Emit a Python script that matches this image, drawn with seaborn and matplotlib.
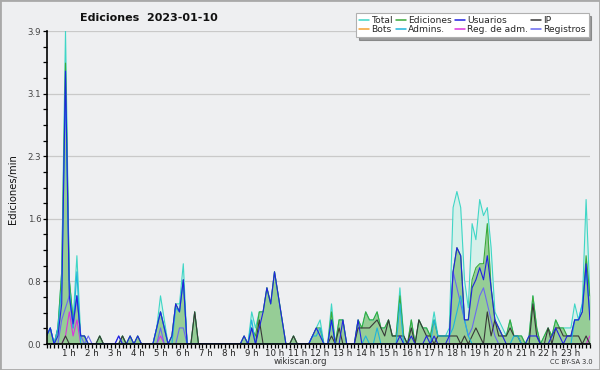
import numpy as np
import pandas as pd
import matplotlib
matplotlib.use("Agg")
import matplotlib.pyplot as plt
from matplotlib.lines import Line2D
from matplotlib.patches import Rectangle
import seaborn as sns

# ---------------- data (10-minute slots, 144 per day) ----------------
series_names = ["Total", "Ediciones", "Usuarios", "IP", "Bots", "Admins.", "Reg. de adm.", "Registros"]
hour_labels = [f"{h} h" for h in range(1, 24)]
ytick_values = [0.0, 0.78, 1.56, 2.34, 3.12, 3.9]
ytick_labels = ["0.0", "0.8", "1.6", "2.3", "3.1", "3.9"]

total = [
    0.1, 0.2, 0.0, 0.2, 0.9, 3.9,
    0.8, 0.3, 1.1, 0.1, 0.1, 0.0,
    0, 0, 0.1, 0, 0, 0,
    0, 0, 0.1, 0, 0.1, 0,
    0.1, 0, 0, 0, 0, 0.2,
    0.6, 0.3, 0, 0.1, 0.5, 0.5,
    1.0, 0, 0, 0.4, 0, 0,
    0, 0, 0, 0, 0, 0,
    0, 0, 0, 0, 0.1, 0,
    0.4, 0.2, 0.4, 0.4, 0.7, 0.5,
    0.9, 0.6, 0.3, 0, 0, 0.1,
    0, 0, 0, 0, 0.1, 0.2,
    0.3, 0, 0, 0.5, 0, 0.3,
    0.3, 0, 0, 0, 0.3, 0.2,
    0.4, 0.3, 0.3, 0.4, 0.2, 0.2,
    0.3, 0.1, 0.1, 0.7, 0.1, 0,
    0.3, 0, 0.3, 0.2, 0.2, 0.1,
    0.4, 0.1, 0.1, 0.1, 0.2, 1.7,
    1.9, 1.7, 0.8, 0.45, 1.5, 1.3,
    1.8, 1.6, 1.7, 1.2, 0.4, 0.3,
    0.2, 0.1, 0.3, 0.1, 0.1, 0.1,
    0, 0.1, 0.6, 0.2, 0, 0.1,
    0.2, 0.1, 0.3, 0.2, 0.2, 0.2,
    0.2, 0.5, 0.3, 0.5, 1.8, 0.6,
]

ediciones = [
    0.1, 0.2, 0.0, 0.2, 0.9, 3.5,
    0.8, 0.3, 0.6, 0.1, 0.1, 0.0,
    0, 0, 0.1, 0, 0, 0,
    0, 0, 0.1, 0, 0.1, 0,
    0.1, 0, 0, 0, 0, 0.2,
    0.4, 0.2, 0, 0.1, 0.5, 0.4,
    0.8, 0, 0, 0.4, 0, 0,
    0, 0, 0, 0, 0, 0,
    0, 0, 0, 0, 0.1, 0,
    0.2, 0.1, 0.4, 0.4, 0.7, 0.5,
    0.9, 0.6, 0.3, 0, 0, 0.1,
    0, 0, 0, 0, 0.1, 0.2,
    0.2, 0, 0, 0.4, 0, 0.3,
    0.3, 0, 0, 0, 0.3, 0.2,
    0.4, 0.3, 0.3, 0.4, 0.2, 0.2,
    0.3, 0.1, 0.1, 0.6, 0.1, 0,
    0.3, 0, 0.3, 0.2, 0.2, 0.1,
    0.3, 0.1, 0.1, 0.1, 0.1, 0.9,
    1.2, 1.1, 0.3, 0.3, 0.8, 0.95,
    1.0, 1.0, 1.5, 0.7, 0.3, 0.2,
    0.1, 0.1, 0.3, 0.1, 0.1, 0.1,
    0, 0.1, 0.6, 0.2, 0, 0.1,
    0.2, 0.1, 0.3, 0.2, 0.2, 0.1,
    0.1, 0.3, 0.3, 0.4, 1.1, 0.6,
]

usuarios = [
    0.1, 0.2, 0.0, 0.1, 0.5, 3.4,
    0.6, 0.25, 0.6, 0.1, 0.1, 0.0,
    0, 0, 0, 0, 0, 0,
    0, 0.1, 0, 0, 0.1, 0,
    0.1, 0, 0, 0, 0, 0.2,
    0.4, 0.2, 0, 0.1, 0.5, 0.4,
    0.8, 0, 0, 0, 0, 0,
    0, 0, 0, 0, 0, 0,
    0, 0, 0, 0, 0.1, 0,
    0.2, 0.0, 0.2, 0.4, 0.7, 0.5,
    0.9, 0.6, 0.3, 0, 0, 0,
    0, 0, 0, 0, 0.1, 0.2,
    0.1, 0, 0, 0.3, 0, 0,
    0.3, 0, 0, 0, 0.3, 0,
    0, 0, 0, 0, 0, 0,
    0, 0, 0, 0.1, 0, 0,
    0.1, 0, 0, 0, 0.1, 0,
    0.1, 0, 0, 0, 0.1, 0.9,
    1.2, 1.1, 0.3, 0.3, 0.7, 0.8,
    0.95, 0.8, 1.1, 0.7, 0.3, 0.2,
    0.1, 0, 0, 0, 0, 0,
    0, 0.1, 0.1, 0.1, 0, 0,
    0, 0.1, 0.2, 0.1, 0, 0.1,
    0.1, 0.3, 0.3, 0.4, 1.0, 0.3,
]

ip = [
    0, 0, 0, 0, 0, 0.1,
    0, 0, 0, 0, 0, 0,
    0, 0, 0.1, 0, 0, 0,
    0, 0, 0.1, 0, 0, 0,
    0, 0, 0, 0, 0, 0,
    0, 0, 0, 0, 0, 0,
    0, 0, 0, 0.4, 0, 0,
    0, 0, 0, 0, 0, 0,
    0, 0, 0, 0, 0, 0,
    0, 0, 0.3, 0, 0, 0,
    0, 0, 0, 0, 0, 0.1,
    0, 0, 0, 0, 0, 0,
    0, 0, 0, 0.1, 0, 0.2,
    0, 0, 0, 0, 0.2, 0.2,
    0.2, 0.2, 0.25, 0.3, 0.2, 0.1,
    0.3, 0.1, 0.1, 0.1, 0.1, 0,
    0.2, 0, 0.3, 0.2, 0.1, 0.1,
    0, 0.1, 0.1, 0.1, 0.1, 0.1,
    0.1, 0, 0.1, 0, 0.1, 0.2,
    0.1, 0, 0.4, 0.1, 0.3, 0.1,
    0.1, 0.1, 0.2, 0.1, 0.1, 0,
    0, 0, 0.5, 0.1, 0, 0,
    0.2, 0, 0.2, 0.2, 0.1, 0.1,
    0.1, 0.1, 0.1, 0, 0.1, 0,
]

bots = [0.0] * 144

admins = [
    0.1, 0.2, 0, 0.2, 0.7, 3.2,
    0.7, 0.2, 0.9, 0, 0, 0,
    0, 0, 0, 0, 0, 0,
    0, 0, 0, 0, 0, 0,
    0, 0, 0, 0, 0, 0.2,
    0.4, 0.2, 0, 0, 0.45, 0.4,
    0.8, 0, 0, 0, 0, 0,
    0, 0, 0, 0, 0, 0,
    0, 0, 0, 0, 0, 0,
    0.3, 0, 0, 0, 0, 0,
    0, 0, 0, 0, 0, 0,
    0, 0, 0, 0, 0.1, 0.1,
    0.2, 0, 0, 0.3, 0, 0,
    0, 0, 0, 0, 0, 0,
    0.1, 0, 0, 0.2, 0, 0,
    0, 0, 0, 0.5, 0, 0,
    0, 0, 0, 0, 0, 0,
    0.3, 0.1, 0.1, 0.1, 0.1, 0.2,
    0.4, 0.6, 0.3, 0.1, 0, 0,
    0, 0, 0, 0, 0, 0,
    0, 0, 0, 0.1, 0.1, 0,
    0, 0, 0, 0, 0, 0,
    0, 0, 0, 0, 0, 0,
    0, 0.3, 0.3, 0.5, 0.9, 0.4,
]

reg_adm = [
    0, 0, 0, 0, 0, 0.1,
    0.4, 0.1, 0.3, 0, 0, 0,
] + [0] * 18 + [0.1] + [0] * 112 + [0.1]

registros = [
    0, 0, 0, 0, 0.3, 0.45,
    0.6, 0.2, 0.6, 0.1, 0, 0.1,
    0, 0, 0, 0, 0, 0,
    0, 0.1, 0, 0, 0, 0,
    0, 0, 0, 0, 0, 0,
    0.2, 0, 0, 0, 0, 0.2,
    0.2, 0, 0, 0, 0, 0,
] + [0] * 65 + [
    0.9, 0.7, 0.5, 0.3, 0.1, 0.2, 0.4,
    0.6, 0.7, 0.5, 0.3, 0.1, 0,
] + [0] * 24

colors = {
    "Total": "#3fd6c6",
    "Ediciones": "#3aaa3a",
    "Usuarios": "#2222e0",
    "IP": "#383838",
    "Bots": "#f5a030",
    "Admins.": "#1fb4dc",
    "Reg. de adm.": "#dd33dd",
    "Registros": "#6a6af0",
}
BG = "#eeeff1"

slots = np.arange(144)
df = pd.DataFrame({
    "slot": slots,
    "Total": total, "Ediciones": ediciones, "Usuarios": usuarios, "IP": ip,
    "Bots": bots, "Admins.": admins, "Reg. de adm.": reg_adm, "Registros": registros,
})
long = df.melt(id_vars="slot", var_name="serie", value_name="val")

sns.set_theme(style="white")
plt.rcParams["font.family"] = ["DejaVu Sans"]

fig = plt.figure(figsize=(6, 3.7), dpi=100, facecolor=BG)
ax = fig.add_axes([46.5 / 600, 26 / 370, 543.4 / 600, 313 / 370], facecolor=BG)

ax.fill_between(df["slot"], df["Total"], color="#d6f0ea", lw=0, zorder=1)
ax.fill_between(df["slot"], df["Ediciones"], color="#96cd96", lw=0, zorder=1.1)

draw_order = ["Total", "Ediciones", "Bots", "Reg. de adm.", "Registros", "IP", "Admins.", "Usuarios"]
sns.lineplot(data=long, x="slot", y="val", hue="serie", hue_order=draw_order,
             palette=colors, linewidth=0.8, legend=False, ax=ax, zorder=2)

ax.set_xlim(0, 143)
ax.set_ylim(0, 3.9)
ax.set_xlabel("")
ax.set_ylabel("")

ax.set_xticks(np.arange(6, 144, 6))
ax.set_xticklabels(hour_labels, fontsize=6.2, color="#222222")
ax.set_xticks(slots, minor=True)
ax.set_yticks(ytick_values)
ax.set_yticklabels(ytick_labels, fontsize=6.2, color="#444444")
ax.set_yticks(np.arange(0, 3.9001, 0.195), minor=True)
ax.tick_params(axis="both", which="both", direction="out", length=3, width=0.9,
               color="black", bottom=True, left=True, pad=0.8)

ax.grid(axis="y", which="major", color="#c9c9c9", lw=0.9)
ax.grid(axis="x", visible=False)
for s in ["top", "right"]:
    ax.spines[s].set_visible(False)
for s in ["left", "bottom"]:
    ax.spines[s].set_color("black")
    ax.spines[s].set_linewidth(1.2)
    ax.spines[s].set_zorder(3)

fig.text(0.021, 0.49, "Ediciones/min", rotation=90, ha="center", va="center",
         fontsize=7.2, color="#111111")
fig.text(0.248, 0.951, "Ediciones  2023-01-10", ha="center", va="center",
         fontsize=8, fontweight="bold", color="#111111")
fig.text(0.5, 0.022, "wikiscan.org", ha="center", va="center", fontsize=6.2, color="#333333")
fig.text(0.953, 0.021, "CC BY-SA 3.0", ha="center", va="center", fontsize=4.8, color="#333333")

leg_order = ["Total", "Bots", "Ediciones", "Admins.", "Usuarios", "Reg. de adm.", "IP", "Registros"]
handles = [Line2D([0], [0], color=colors[n], lw=1.1) for n in leg_order]
leg = fig.legend(handles, leg_order, ncol=4, loc="upper right", bbox_to_anchor=(0.984, 0.969),
                 fontsize=6.6, frameon=True, facecolor="white", edgecolor="#b0b0b0",
                 shadow=True, fancybox=False, handlelength=1.1, handletextpad=0.25,
                 columnspacing=0.3, labelspacing=0.0, borderpad=0.3, borderaxespad=0.2)
leg.get_frame().set_linewidth(0.8)

fig.patches.append(Rectangle((0, 0), 1, 1, transform=fig.transFigure, fill=False,
                             edgecolor="#a9a9a9", lw=2))

fig.savefig("out.png", dpi=100, facecolor=BG)
